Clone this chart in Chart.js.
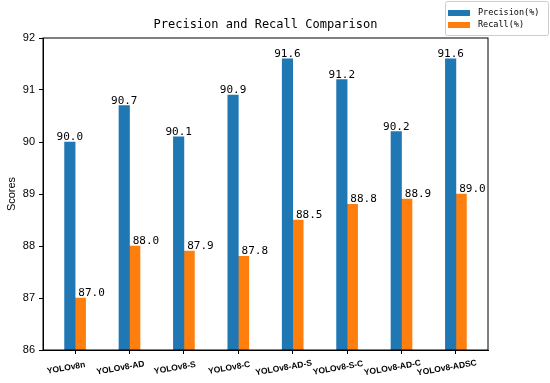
<!DOCTYPE html>
<html>
<head>
<meta charset="utf-8">
<script src="https://cdn.jsdelivr.net/npm/chart.js@4/dist/chart.umd.min.js"></script>
<style>
  html, body { margin: 0; padding: 0; background: #fff; }
  #wrap { width: 550px; height: 383px; position: relative; }
</style>
</head>
<body>
<div id="wrap"><canvas id="chart" width="550" height="383"></canvas></div>
<script>
// values
const models = ["YOLOv8n", "YOLOv8-AD", "YOLOv8-S", "YOLOv8-C", "YOLOv8-AD-S", "YOLOv8-S-C", "YOLOv8-AD-C", "YOLOv8-ADSC"];
const precision = [90.0, 90.7, 90.1, 90.9, 91.6, 91.2, 90.2, 91.6];
const recall = [87.0, 88.0, 87.9, 87.8, 88.5, 88.8, 88.9, 89.0];
const yTicks = [86, 87, 88, 89, 90, 91, 92];

const BLUE = "#1f77b4";
const ORANGE = "#ff7f0e";
const MONO = "'DejaVu Sans Mono', monospace";
const SANS = "'Liberation Sans', Arial, sans-serif";

// title, spines, value labels, rotated x labels, y label, legend
const decorations = {
  id: "decorations",
  afterDatasetsDraw(chart) {
    const { ctx, chartArea: a } = chart;
    ctx.save();

    // top + right spines (left/bottom come from the axis borders)
    ctx.strokeStyle = "#000";
    ctx.lineWidth = 1;
    ctx.strokeRect(a.left, a.top, a.right - a.left, a.bottom - a.top);

    // value labels
    ctx.fillStyle = "#000";
    ctx.font = "11px " + MONO;
    ctx.textBaseline = "alphabetic";
    chart.data.datasets.forEach((ds, di) => {
      chart.getDatasetMeta(di).data.forEach((bar, i) => {
        const txt = ds.data[i].y.toFixed(1);
        if (di === 0) {
          ctx.textAlign = "center";
          ctx.fillText(txt, bar.x, bar.y - 2);
        } else {
          ctx.textAlign = "left";
          ctx.fillText(txt, bar.x - 2, bar.y - 2);
        }
      });
    });

    // x tick labels, tilted
    const xs = chart.scales.x;
    ctx.font = "bold 8.5px " + SANS;
    ctx.textAlign = "center";
    ctx.textBaseline = "middle";
    models.forEach((m, i) => {
      const px = xs.getPixelForValue(i);
      ctx.save();
      ctx.translate(px - 9, a.bottom + 18);
      ctx.rotate(-10 * Math.PI / 180);
      ctx.fillText(m, 0, 0);
      ctx.restore();
    });

    // title
    ctx.font = "12px " + MONO;
    ctx.textAlign = "center";
    ctx.textBaseline = "middle";
    ctx.fillText("Precision and Recall Comparison", (a.left + a.right) / 2, 25);

    // y label
    ctx.save();
    ctx.font = "11px " + SANS;
    ctx.translate(12, (a.top + a.bottom) / 2);
    ctx.rotate(-Math.PI / 2);
    ctx.fillText("Scores", 0, 0);
    ctx.restore();

    // legend box
    ctx.fillStyle = "rgba(255,255,255,0.9)";
    ctx.strokeStyle = "#cccccc";
    ctx.beginPath();
    ctx.roundRect(445.5, 1.5, 103, 34, 2);
    ctx.fill();
    ctx.stroke();
    ctx.font = "8.5px " + MONO;
    ctx.textAlign = "left";
    ctx.textBaseline = "middle";
    chart.data.datasets.forEach((ds, di) => {
      const y = 13 + di * 12;
      ctx.fillStyle = ds.backgroundColor;
      ctx.fillRect(448, y - 3, 22, 6);
      ctx.fillStyle = "#000";
      ctx.fillText(ds.label, 478, y);
    });

    ctx.restore();
  }
};

new Chart(document.getElementById("chart"), {
  type: "bar",
  data: {
    datasets: [
      {
        label: "Precision(%)",
        data: precision.map((v, i) => ({ x: i, y: v })),
        backgroundColor: BLUE,
        barThickness: 10.5,
      },
      {
        label: "Recall(%)",
        data: recall.map((v, i) => ({ x: i, y: v })),
        backgroundColor: ORANGE,
        barThickness: 10.5,
      },
    ],
  },
  options: {
    responsive: false,
    animation: false,
    layout: { padding: { left: 0, top: 38, right: 62, bottom: 0 } },
    plugins: {
      legend: { display: false },
      title: { display: false },
      tooltip: { enabled: false },
    },
    scales: {
      x: {
        type: "linear",
        offset: false,
        min: -0.59,
        max: 7.59,
        afterBuildTicks: (s) => { s.ticks = models.map((_, i) => ({ value: i })); },
        afterFit: (s) => { s.height = 33; },
        ticks: { color: "rgba(0,0,0,0)", autoSkip: false, maxRotation: 0, callback: (v) => models[v] },
        grid: { offset: false, drawOnChartArea: false, drawTicks: true, tickLength: 4, color: "#000" },
        border: { display: true, color: "#000", width: 1 },
      },
      y: {
        min: 86,
        max: 92,
        afterBuildTicks: (s) => { s.ticks = yTicks.map((v) => ({ value: v })); },
        afterFit: (s) => { s.width = 43; },
        ticks: { color: "#000", font: { family: SANS, size: 11 }, padding: 4 },
        grid: { drawOnChartArea: false, drawTicks: true, tickLength: 4, color: "#000" },
        border: { display: true, color: "#000", width: 1 },
      },
    },
  },
  plugins: [decorations],
});
</script>
</body>
</html>
